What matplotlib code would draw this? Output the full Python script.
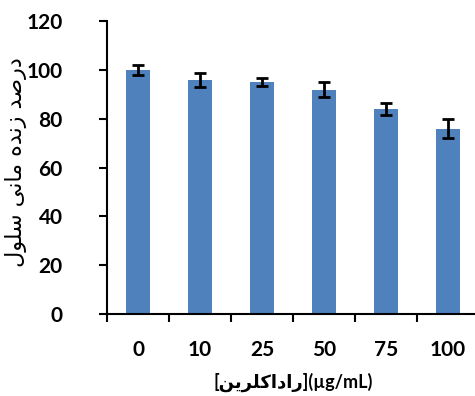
import matplotlib.pyplot as plt
import numpy as np

doses = ["0", "10", "25", "50", "75", "100"]
viability = [100, 96, 95, 92, 84, 76]
errors = [2, 3, 1.6, 3, 2.4, 4]

# presentation forms: isolated, final, initial, medial (None = no left join)
FORMS = {
    "ا": ("\uFE8D", "\uFE8E", None, None),
    "د": ("\uFEA9", "\uFEAA", None, None),
    "ر": ("\uFEAD", "\uFEAE", None, None),
    "ز": ("\uFEAF", "\uFEB0", None, None),
    "و": ("\uFEED", "\uFEEE", None, None),
    "ص": ("\uFEB9", "\uFEBA", "\uFEBB", "\uFEBC"),
    "س": ("\uFEB1", "\uFEB2", "\uFEB3", "\uFEB4"),
    "ل": ("\uFEDD", "\uFEDE", "\uFEDF", "\uFEE0"),
    "م": ("\uFEE1", "\uFEE2", "\uFEE3", "\uFEE4"),
    "ن": ("\uFEE5", "\uFEE6", "\uFEE7", "\uFEE8"),
    "ه": ("\uFEE9", "\uFEEA", "\uFEEB", "\uFEEC"),
    "ی": ("\uFBFC", "\uFBFD", "\uFBFE", "\uFBFF"),
    "ک": ("\uFB8E", "\uFB8F", "\uFB90", "\uFB91"),
}


def shape(text):
    # minimal reshaping + reversal so matplotlib shows Persian right to left
    out = []
    for i, ch in enumerate(text):
        if ch not in FORMS:
            out.append(ch)
            continue
        prev = text[i - 1] if i > 0 else ""
        nxt = text[i + 1] if i + 1 < len(text) else ""
        join_prev = prev in FORMS and FORMS[prev][2] is not None
        join_next = nxt in FORMS and FORMS[ch][2] is not None
        iso, fin, ini, med = FORMS[ch]
        if join_prev and join_next:
            out.append(med)
        elif join_prev:
            out.append(fin)
        elif join_next:
            out.append(ini)
        else:
            out.append(iso)
    return "".join(out)[::-1]


ylabel = shape("درصد زنده مانی سلول")
xlabel = "[" + shape("راداکلرین") + "](µg/mL)"

plt.rcParams["font.family"] = ["Lato", "DejaVu Sans"]

fig = plt.figure(figsize=(4.75, 3.96), dpi=100)
ax = fig.add_axes([0.2253, 0.207, 0.783, 0.739])

x = np.arange(len(doses))
ax.bar(x, viability, width=0.4, color="#4F81BD")
ax.errorbar(x, viability, yerr=errors, fmt="none", ecolor="black",
            elinewidth=2, capsize=4, capthick=2)

ax.set_xlim(-0.5, 5.5)
ax.set_ylim(0, 120)
ax.set_yticks(range(0, 121, 20))
ax.set_xticks(x)
ax.set_xticklabels(doses)
ax.set_xticks(np.arange(-0.5, 5.5, 1), minor=True)

for s in ["top", "right"]:
    ax.spines[s].set_visible(False)
for s in ["left", "bottom"]:
    ax.spines[s].set_linewidth(1.5)

ax.tick_params(axis="x", which="major", length=0, pad=19)
ax.tick_params(axis="x", which="minor", length=6, width=1.5, direction="out")
ax.tick_params(axis="y", length=6, width=1.5, direction="out", pad=26)
for lab in ax.get_xticklabels() + ax.get_yticklabels():
    lab.set_fontsize(15)
    lab.set_fontweight("bold")

ax.set_ylabel(ylabel, fontsize=16, family=["DejaVu Sans"])
ax.yaxis.set_label_coords(-0.215, 0.52)
ax.set_xlabel(xlabel, fontsize=13, fontweight="bold", labelpad=9)

fig.savefig("out.png", dpi=100)
